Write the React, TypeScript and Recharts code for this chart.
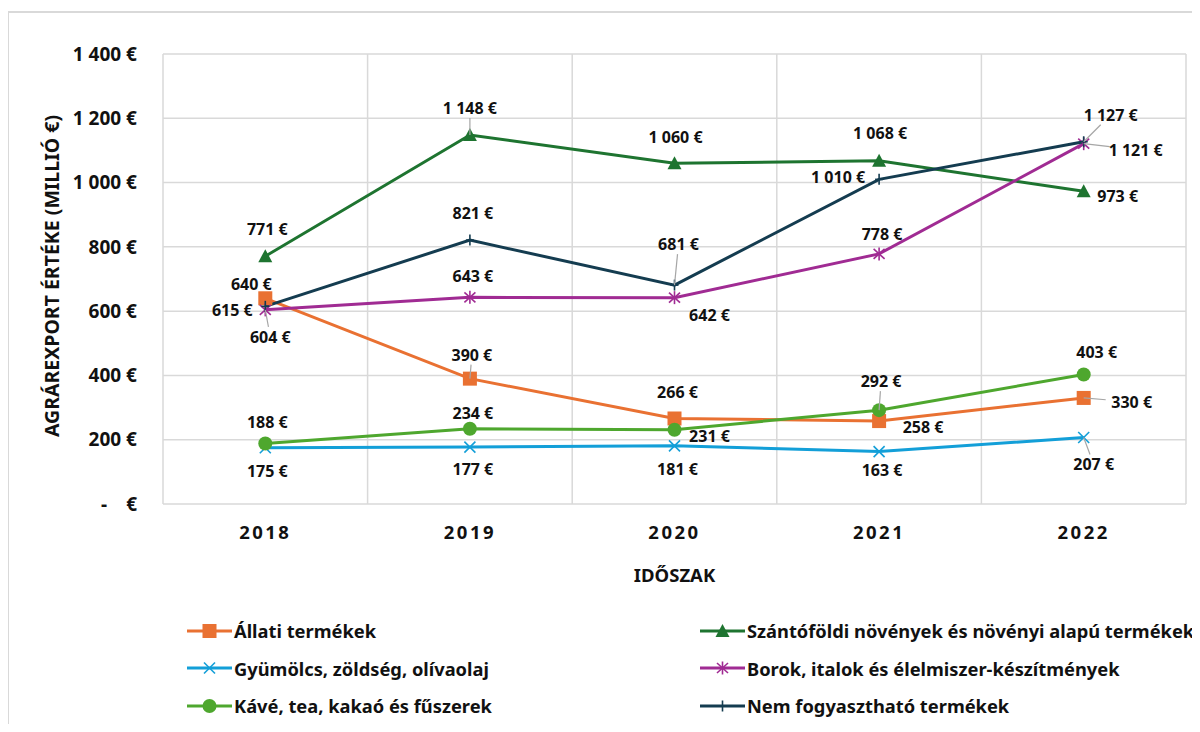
import React from 'react';
import { LineChart, Line, XAxis, YAxis, CartesianGrid, LabelList } from 'recharts';

const years = ['2018', '2019', '2020', '2021', '2022'];
const allati = [640, 390, 266, 258, 330];
const szantofoldi = [771, 1148, 1060, 1068, 973];
const gyumolcs = [175, 177, 181, 163, 207];
const borok = [604, 643, 642, 778, 1121];
const kave = [188, 234, 231, 292, 403];
const nemFogyaszthato = [615, 821, 681, 1010, 1127];
const yTicks = [0, 200, 400, 600, 800, 1000, 1200, 1400];

const FONT = '"Noto Sans", "DejaVu Sans", sans-serif';
const TEXT = '#111111';
const GRID = '#d9d9d9';

type Shape = 'square' | 'triangle' | 'x' | 'star' | 'circle' | 'plus';

// label placement around each point: [dx, dy, leader line]
const series: {
  key: string;
  name: string;
  color: string;
  shape: Shape;
  labels: [number, number, boolean][];
}[] = [
  {
    key: 'allati', name: 'Állati termékek', color: '#E97132', shape: 'square',
    labels: [[-14, -14, false], [2, -24, true], [3, -27, false], [44, 6, false], [48, 4, true]],
  },
  {
    key: 'szantofoldi', name: 'Szántóföldi növények és növényi alapú termékek', color: '#1E7430', shape: 'triangle',
    labels: [[2, -27, false], [0, -27, true], [1, -26, false], [1, -28, false], [34, 5, false]],
  },
  {
    key: 'gyumolcs', name: 'Gyümölcs, zöldség, olívaolaj', color: '#139FD8', shape: 'x',
    labels: [[2, 23, false], [3, 22, false], [3, 23, false], [3, 18, false], [10, 27, true]],
  },
  {
    key: 'borok', name: 'Borok, italok és élelmiszer-készítmények', color: '#A02B93', shape: 'star',
    labels: [[5, 27, true], [3, -21, false], [35, 17, false], [3, -20, false], [52, 6, true]],
  },
  {
    key: 'kave', name: 'Kávé, tea, kakaó és fűszerek', color: '#4EA72E', shape: 'circle',
    labels: [[2, -22, false], [3, -16, false], [35, 6, false], [2, -29, true], [13, -22, false]],
  },
  {
    key: 'nem', name: 'Nem fogyasztható termékek', color: '#143C50', shape: 'plus',
    labels: [[-33, 4, false], [3, -27, false], [4, -41, true], [-41, -2, false], [27, -27, true]],
  },
];

const data = years.map((year, i) => ({
  idx: i,
  year,
  allati: allati[i],
  szantofoldi: szantofoldi[i],
  gyumolcs: gyumolcs[i],
  borok: borok[i],
  kave: kave[i],
  nem: nemFogyaszthato[i],
}));

const euro = (v: number) => {
  if (v === 0) return '-\u2003€';
  const s = v >= 1000 ? `${Math.floor(v / 1000)} ${String(v % 1000).padStart(3, '0')}` : String(v);
  return `${s} €`;
};

const Marker = ({ shape, color, cx, cy }: { shape: Shape; color: string; cx: number; cy: number }) => {
  switch (shape) {
    case 'square':
      return <rect x={cx - 7} y={cy - 7} width={14} height={14} fill={color} />;
    case 'triangle':
      return <polygon points={`${cx},${cy - 7} ${cx + 7},${cy + 6} ${cx - 7},${cy + 6}`} fill={color} />;
    case 'circle':
      return <circle cx={cx} cy={cy} r={7} fill={color} />;
    case 'x':
      return (
        <g stroke={color} strokeWidth={1.6}>
          <line x1={cx - 5.5} y1={cy - 5.5} x2={cx + 5.5} y2={cy + 5.5} />
          <line x1={cx - 5.5} y1={cy + 5.5} x2={cx + 5.5} y2={cy - 5.5} />
        </g>
      );
    case 'star':
      return (
        <g stroke={color} strokeWidth={1.6}>
          <line x1={cx} y1={cy - 6.5} x2={cx} y2={cy + 6.5} />
          <line x1={cx - 5.5} y1={cy - 5} x2={cx + 5.5} y2={cy + 5} />
          <line x1={cx - 5.5} y1={cy + 5} x2={cx + 5.5} y2={cy - 5} />
        </g>
      );
    default:
      return (
        <g stroke={color} strokeWidth={1.6}>
          <line x1={cx} y1={cy - 5.5} x2={cx} y2={cy + 5.5} />
          <line x1={cx - 4} y1={cy} x2={cx + 4} y2={cy} />
        </g>
      );
  }
};

const renderLabel = (s: (typeof series)[number]) => (p: any) => {
  const { x, y, value, index } = p;
  const [dx, dy, leader] = s.labels[index];
  let line = null;
  if (leader) {
    const hw = 26;
    const hh = 10;
    const t = 1 - Math.min(dx === 0 ? 99 : hw / Math.abs(dx), dy === 0 ? 99 : hh / Math.abs(dy));
    if (t > 0) {
      line = <line x1={x} y1={y} x2={x + dx * t} y2={y + dy * t} stroke="#a6a6a6" strokeWidth={1.2} />;
    }
  }
  return (
    <g key={`${s.key}-lbl-${index}`}>
      {line}
      <text x={x + dx} y={y + dy} textAnchor="middle" dominantBaseline="central"
        fontFamily={FONT} fontWeight={700} fontSize={16} fill={TEXT}>
        {euro(value)}
      </text>
    </g>
  );
};

const YTitle = (props: any) => {
  const vb = props.viewBox;
  const cx = vb.x - 37;
  const cy = vb.y + vb.height / 2 - 3;
  return (
    <text x={cx} y={cy} transform={`rotate(-90 ${cx} ${cy})`} textAnchor="middle" dominantBaseline="central"
      fontFamily={FONT} fontWeight={700} fontSize={19.5} fill={TEXT}>
      AGRÁREXPORT ÉRTÉKE (MILLIÓ €)
    </text>
  );
};

const XTitle = (props: any) => {
  const vb = props.viewBox;
  return (
    <text x={vb.x + vb.width / 2} y={vb.y + 70} textAnchor="middle" dominantBaseline="central"
      fontFamily={FONT} fontWeight={700} fontSize={18.5} fill={TEXT}>
      IDŐSZAK
    </text>
  );
};

const LegendItem = ({ s }: { s: (typeof series)[number] }) => (
  <div style={{ display: 'flex', alignItems: 'center', height: 37.5 }}>
    <svg width={46} height={20} style={{ flex: 'none' }}>
      <line x1={0} y1={10} x2={45} y2={10} stroke={s.color} strokeWidth={3} />
      <Marker shape={s.shape} color={s.color} cx={22.5} cy={10} />
    </svg>
    <span style={{ fontFamily: FONT, fontWeight: 700, fontSize: 18.3, color: TEXT, whiteSpace: 'nowrap', marginLeft: 1 }}>
      {s.name}
    </span>
  </div>
);

export default function App() {
  return (
    <div style={{ position: 'relative', margin: -8, width: 1200, height: 732, overflow: 'hidden', background: '#fff' }}>
      <div style={{ position: 'absolute', left: 0, top: 0 }}>
        <LineChart width={1200} height={732} data={data} margin={{ top: 54, right: 14, bottom: 168, left: 88 }}>
          <CartesianGrid
            stroke={GRID}
            strokeWidth={1.5}
            verticalCoordinatesGenerator={({ offset }: any) =>
              [0, 1, 2, 3, 4, 5].map((i) => offset.left + (offset.width * i) / years.length)
            }
          />
          <XAxis
            type="number"
            dataKey="idx"
            domain={[-0.5, 4.5]}
            ticks={[0, 1, 2, 3, 4]}
            interval={0}
            tickFormatter={(i: number) => years[i]}
            axisLine={false}
            tickLine={false}
            tickSize={6}
            tickMargin={16}
            height={60}
            tick={{ fontFamily: FONT, fontWeight: 700, fontSize: 18.5, fill: TEXT, letterSpacing: 2.5 }}
            label={XTitle}
          />
          <YAxis
            domain={[0, 1400]}
            ticks={yTicks}
            interval={0}
            width={75}
            tickFormatter={euro}
            axisLine={false}
            tickLine={false}
            tickSize={6}
            tickMargin={20}
            tick={{ fontFamily: FONT, fontWeight: 700, fontSize: 19, fill: TEXT }}
            label={YTitle}
          />
          {series.map((s) => (
            <Line
              key={s.key}
              dataKey={s.key}
              name={s.name}
              stroke={s.color}
              strokeWidth={3}
              isAnimationActive={false}
              dot={(p: any) => <Marker key={`${s.key}-dot-${p.index}`} shape={s.shape} color={s.color} cx={p.cx} cy={p.cy} />}
              activeDot={false}
            >
              <LabelList dataKey={s.key} content={renderLabel(s)} />
            </Line>
          ))}
        </LineChart>
      </div>
      <div style={{ position: 'absolute', left: 187, top: 612, display: 'grid', gridTemplateColumns: '513px auto' }}>
        {series.map((s) => (
          <LegendItem key={s.key} s={s} />
        ))}
      </div>
      <div
        style={{
          position: 'absolute', left: 7, top: 11, width: 1220, height: 760,
          borderLeft: `2px solid ${GRID}`, borderTop: `2px solid ${GRID}`, pointerEvents: 'none',
        }}
      />
    </div>
  );
}
